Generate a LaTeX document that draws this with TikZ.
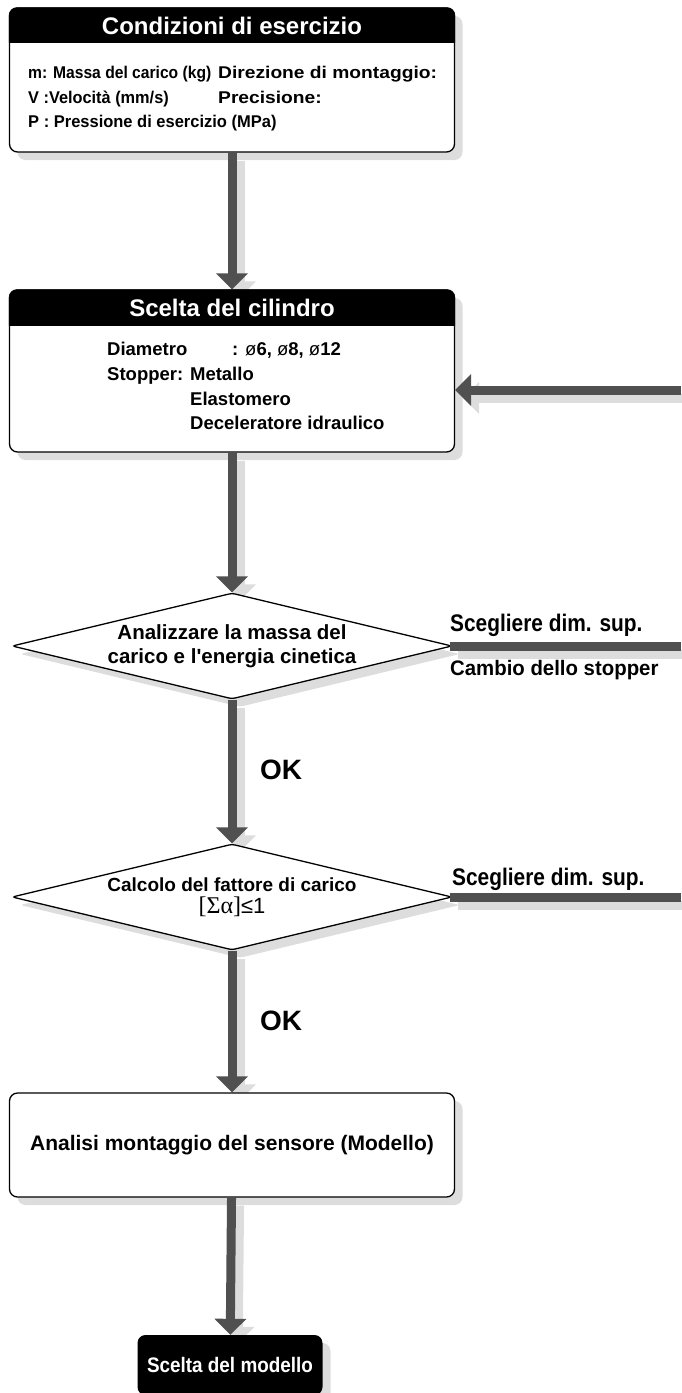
\documentclass[tikz,border=0pt]{standalone}
\usepackage{graphicx}
\usepackage{fontspec}
\setmainfont{Liberation Sans}
\newfontfamily\seriffont{Liberation Serif}
\usetikzlibrary{arrows.meta,shapes.geometric,shadows}
\definecolor{arrgray}{RGB}{80,80,80}
\definecolor{shgray}{RGB}{221,221,221}
\pgfdeclarelayer{bg}
\pgfsetlayers{bg,main}
\newcommand{\fs}[1]{\fontsize{#1}{#1}\selectfont}
\newcommand{\nar}[2]{\scalebox{#1}[1]{#2}}

\begin{document}
\begin{tikzpicture}[x=1pt,y=-1pt]
\useasboundingbox (0,0) rectangle (681,1393);
\tikzstyle{every node} = [inner sep=0pt, font=\bfseries\fs{17}]
\tikzstyle{shade} = [drop shadow={shadow xshift=8pt, shadow yshift=-8pt, fill=shgray, opacity=1}]
\tikzstyle{box} = [draw, line width=1.3pt, fill=white, rounded corners=8pt, minimum width=445pt, shade]
\tikzstyle{dia} = [diamond, draw, line width=1.3pt, fill=white, aspect=4.2, minimum width=440pt, minimum height=106pt, rounded corners=3pt, align=center, shade]
\tikzstyle{arr} = [line width=9pt, arrgray, -{Triangle[width=31pt,length=16pt]}]
\tikzstyle{arrsh} = [line width=9pt, shgray, -{Triangle[width=31pt,length=16pt]}, transform canvas={xshift=8pt,yshift=-8pt}]
\tikzstyle{bar} = [line width=9pt, arrgray]
\tikzstyle{barsh} = [line width=9pt, shgray, transform canvas={xshift=8pt,yshift=-8pt}]
\node[box, minimum height=144pt] (1) at (232,80) {};
\node[box, minimum height=162pt] (2) at (232,371) {};
\node[dia, font=\bfseries\fontsize{20.5}{24}\selectfont] (3) at (232,646) {Analizzare la massa del\\carico e l\textquotesingle energia cinetica};
\node[dia, font=\bfseries\fontsize{19}{22}\selectfont] (4) at (232,897) {Calcolo del fattore di carico\\{\mdseries\fs{24}\seriffont[Σα]}{\mdseries\fs{22}≤1}};
\node[box, minimum height=104pt, font=\bfseries\fs{21}] (5) at (232,1145) {Analisi montaggio del sensore (Modello)};
\node[fill=black, text=white, rounded corners=8pt, minimum width=185pt, minimum height=60pt, shade, font=\bfseries\fs{21}] (6) at (230,1365) {\nar{0.9}{Scelta del modello}};
\coordinate (r2) at (681,390);
\coordinate (r3) at (681,646);
\coordinate (r4) at (681,897);
% header bands
\begin{scope}
\clip (1.north west) rectangle ([yshift=-35pt]1.north east);
\fill[rounded corners=8pt] (1.north west) rectangle (1.south east);
\end{scope}
\begin{scope}
\clip (2.north west) rectangle ([yshift=-36pt]2.north east);
\fill[rounded corners=8pt] (2.north west) rectangle (2.south east);
\end{scope}
\node[text=white, font=\bfseries\fs{24}] (1h) at (232,26) {Condizioni di esercizio};
\node[text=white, font=\bfseries\fs{24}] (2h) at (232,308) {Scelta del cilindro};
\tikzstyle{every node} = [inner sep=0pt, anchor=base west, font=\bfseries\fs{17}]
\node (1a) at (28,78) {\nar{0.92}{m: Massa del carico (kg)}};
\node (1b) at (218,78) {\nar{1.13}{Direzione di montaggio:}};
\node (1c) at (28,103) {\nar{0.96}{V :Velocità (mm/s)}};
\node (1d) at (218,103) {\nar{1.13}{Precisione:}};
\node (1e) at (28,127) {\nar{0.97}{P : Pressione di esercizio (MPa)}};
\tikzstyle{every node} = [inner sep=0pt, anchor=base west, font=\bfseries\fs{18.5}]
\node (2a) at (107,355) {Diametro};
\node (2b) at (232,355) {: {\mdseries ø}6, {\mdseries ø}8, {\mdseries ø}12};
\node (2c) at (107,380) {Stopper: Metallo};
\node (2d) at (190,405) {Elastomero};
\node (2e) at (190,429) {Deceleratore idraulico};
\tikzstyle{every node} = [inner sep=0pt, anchor=base west, font=\bfseries\fs{24}]
\node (s3) at (450,631) {\nar{0.87}{Scegliere dim. sup.}};
\node[font=\bfseries\fs{21}] (c3) at (450,675) {\nar{0.97}{Cambio dello stopper}};
\node (s4) at (452,885) {\nar{0.87}{Scegliere dim. sup.}};
\node[font=\bfseries\fs{28}] (ok3) at (260,779) {OK};
\node[font=\bfseries\fs{28}] (ok4) at (260,1030) {OK};
\begin{pgfonlayer}{bg}
\draw[arrsh] (1) -- (2);
\draw[arrsh] (2) -- (3);
\draw[arrsh] (3) -- (4);
\draw[arrsh] (4) -- (5);
\draw[arrsh] (5) -- (6);
\draw[arrsh] (r2) -- (r2 -| 2.east);
\draw[barsh] ([xshift=-3pt]3.east) -- (r3);
\draw[barsh] ([xshift=-3pt]4.east) -- (r4);
\end{pgfonlayer}
\draw[arr] (1) -- (2);
\draw[arr] (2) -- (3);
\draw[arr] (3) -- (4);
\draw[arr] (4) -- (5);
\draw[arr] (5) -- (6);
\draw[arr] (r2) -- (r2 -| 2.east);
\draw[bar] ([xshift=-3pt]3.east) -- (r3);
\draw[bar] ([xshift=-3pt]4.east) -- (r4);
\end{tikzpicture}
\end{document}
